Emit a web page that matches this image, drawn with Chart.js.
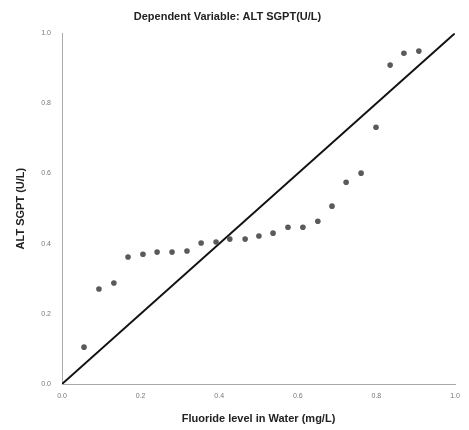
<!DOCTYPE html>
<html>
<head>
<meta charset="utf-8">
<script src="https://cdn.jsdelivr.net/npm/chart.js@4"></script>
<style>
  html, body { margin: 0; padding: 0; background: #fff; }
  #wrap { width: 469px; height: 430px; }
</style>
</head>
<body>
<div id="wrap"><canvas id="ppChart"></canvas></div>
<script>
// values
const fluoride = [0.056, 0.094, 0.132, 0.168, 0.206, 0.242, 0.280, 0.318, 0.354, 0.392, 0.427, 0.466,
                  0.501, 0.537, 0.575, 0.613, 0.651, 0.687, 0.723, 0.761, 0.799, 0.835, 0.870, 0.908];
const altSgpt  = [0.105, 0.271, 0.288, 0.362, 0.370, 0.376, 0.376, 0.379, 0.402, 0.405, 0.413, 0.413,
                  0.422, 0.430, 0.447, 0.447, 0.464, 0.507, 0.575, 0.601, 0.732, 0.909, 0.943, 0.949];
const diagX = [0, 1];
const diagY = [0, 1];
const tickValues = [0, 0.2, 0.4, 0.6, 0.8, 1.0];

const points = fluoride.map((x, i) => ({ x: x, y: altSgpt[i] }));
const diagonal = diagX.map((x, i) => ({ x: x, y: diagY[i] }));

Chart.defaults.font.family = "'Liberation Sans', Arial, sans-serif";

new Chart(document.getElementById("ppChart"), {
  type: "scatter",
  data: {
    datasets: [
      {
        label: "Observed",
        data: points,
        backgroundColor: "#5a5a5a",
        borderColor: "#5a5a5a",
        pointRadius: 2.8,
        pointBorderWidth: 0,
      },
      {
        type: "line",
        label: "Expected",
        data: diagonal,
        borderColor: "#111",
        borderWidth: 2,
        pointRadius: 0,
        fill: false,
      },
    ],
  },
  options: {
    responsive: true,
    maintainAspectRatio: false,
    animation: false,
    layout: { padding: { left: 0, right: 14, top: 0, bottom: 0 } },
    plugins: {
      legend: { display: false },
      tooltip: { enabled: false },
      title: {
        display: true,
        text: "Dependent Variable: ALT SGPT(U/L)",
        color: "#222",
        font: { size: 11, weight: "bold" },
        padding: { top: 10, bottom: 10 },
      },
    },
    scales: {
      x: {
        type: "linear",
        min: 0,
        max: 1,
        afterFit: (s) => { s.height = 46; },
        afterBuildTicks: (s) => { s.ticks = tickValues.map(v => ({ value: v })); },
        grid: { display: false },
        border: { display: true, color: "#aaa", width: 1 },
        ticks: {
          color: "#777",
          font: { size: 7 },
          padding: 0,
          callback: (v) => v.toFixed(1),
        },
        title: {
          display: true,
          text: "Fluoride level in Water (mg/L)",
          color: "#222",
          font: { size: 11, weight: "bold" },
          padding: { top: 14 },
        },
      },
      y: {
        type: "linear",
        min: 0,
        max: 1,
        afterFit: (s) => { s.width = 62; },
        afterBuildTicks: (s) => { s.ticks = tickValues.map(v => ({ value: v })); },
        grid: { display: false },
        border: { display: true, color: "#aaa", width: 1 },
        ticks: {
          color: "#777",
          font: { size: 7 },
          padding: 3,
          callback: (v) => v.toFixed(1),
        },
        title: {
          display: true,
          text: "ALT SGPT (U/L)",
          color: "#222",
          font: { size: 11, weight: "bold" },
          padding: { top: 14, bottom: 0 },
        },
      },
    },
  },
});
</script>
</body>
</html>
